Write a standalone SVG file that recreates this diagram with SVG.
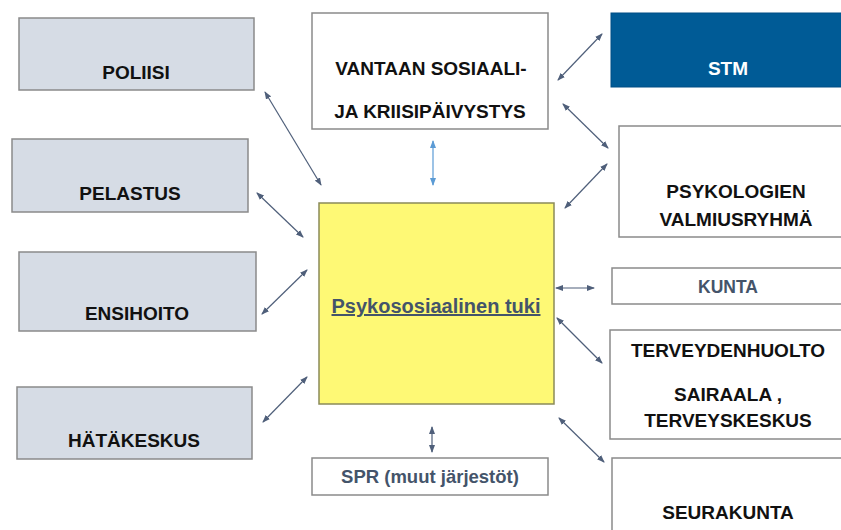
<svg xmlns="http://www.w3.org/2000/svg" width="841" height="530" viewBox="0 0 841 530">
<style>
.box{stroke:#8a8a8a;stroke-width:1.5}
.g{fill:#d6dce5}
.w{fill:#ffffff}
.t{font-family:"Liberation Sans",Arial,sans-serif;font-weight:bold;font-size:19px;fill:#111111;text-anchor:middle}
.s{fill:#44546a}
.c{stroke:#4f5f7a;stroke-width:1.2;fill:none;marker-start:url(#ah);marker-end:url(#ah)}
.cb{stroke:#5b9bd5;stroke-width:1.2;fill:none;marker-start:url(#ahb);marker-end:url(#ahb)}
</style>
<defs>
<marker id="ah" viewBox="0 0 8 6" refX="7" refY="3" markerWidth="8" markerHeight="6" markerUnits="userSpaceOnUse" orient="auto-start-reverse"><path d="M0,0 L8,3 L0,6 Z" fill="#4f5f7a"/></marker>
<marker id="ahb" viewBox="0 0 8 6" refX="7" refY="3" markerWidth="8" markerHeight="6" markerUnits="userSpaceOnUse" orient="auto-start-reverse"><path d="M0,0 L8,3 L0,6 Z" fill="#5b9bd5"/></marker>
</defs>
<rect width="841" height="530" fill="#ffffff"/>
<g id="poliisi"><rect class="box g" x="19" y="18" width="235" height="72"/><text class="t" x="136" y="79">POLIISI</text></g>
<g id="pelastus"><rect class="box g" x="12" y="139" width="236" height="73"/><text class="t" x="130" y="200">PELASTUS</text></g>
<g id="ensihoito"><rect class="box g" x="19" y="252" width="237" height="79"/><text class="t" x="137" y="320">ENSIHOITO</text></g>
<g id="hatakeskus"><rect class="box g" x="17" y="387" width="235" height="72"/><text class="t" x="134" y="447">HÄTÄKESKUS</text></g>
<g id="vantaan"><rect class="box w" x="312" y="13" width="236" height="116"/><text class="t" x="431" y="75">VANTAAN SOSIAALI-</text><text class="t" x="430" y="118">JA KRIISIPÄIVYSTYS</text></g>
<g id="psykososiaalinen"><rect x="319" y="203" width="235" height="201" fill="#fef975" stroke="#8a8a5a" stroke-width="1.5"/><text class="t s" x="436" y="313" style="font-size:20px" text-decoration="underline">Psykososiaalinen tuki</text></g>
<g id="spr"><rect class="box w" x="312" y="458" width="236" height="37"/><text class="t s" x="430" y="483" style="font-size:18.5px">SPR (muut järjestöt)</text></g>
<g id="stm"><rect x="611" y="13" width="240" height="74" fill="#005b96" stroke="#004f85" stroke-width="1"/><text class="t" x="728" y="75" style="fill:#ffffff">STM</text></g>
<g id="psykologien"><rect class="box w" x="619" y="126" width="232" height="111"/><text class="t" x="736" y="198">PSYKOLOGIEN</text><text class="t" x="736" y="226">VALMIUSRYHMÄ</text></g>
<g id="kunta"><rect class="box w" x="612" y="268" width="239" height="36"/><text class="t s" x="728" y="293" style="font-size:17.5px">KUNTA</text></g>
<g id="terveydenhuolto"><rect class="box w" x="610" y="330" width="241" height="109"/><text class="t" x="728" y="357">TERVEYDENHUOLTO</text><text class="t" x="728" y="401">SAIRAALA ,</text><text class="t" x="728" y="427">TERVEYSKESKUS</text></g>
<g id="seurakunta"><rect class="box w" x="612" y="458" width="239" height="80"/><text class="t" x="728" y="519">SEURAKUNTA</text></g>
<g id="connectors">
<line class="c" x1="265" y1="92" x2="321" y2="185"/>
<line class="c" x1="257" y1="193" x2="303" y2="237"/>
<line class="c" x1="262" y1="314" x2="307" y2="270"/>
<line class="c" x1="263" y1="422" x2="307" y2="377"/>
<line class="cb" x1="433" y1="141" x2="433" y2="185"/>
<line class="c" x1="558" y1="80" x2="602" y2="34"/>
<line class="c" x1="563" y1="104" x2="608" y2="148"/>
<line class="c" x1="565" y1="208" x2="607" y2="164"/>
<line class="c" x1="556" y1="288" x2="594" y2="288"/>
<line class="c" x1="557" y1="318" x2="602" y2="363"/>
<line class="c" x1="559" y1="418" x2="604" y2="462"/>
<line class="c" x1="432" y1="427" x2="432" y2="452"/>
</g>
</svg>
